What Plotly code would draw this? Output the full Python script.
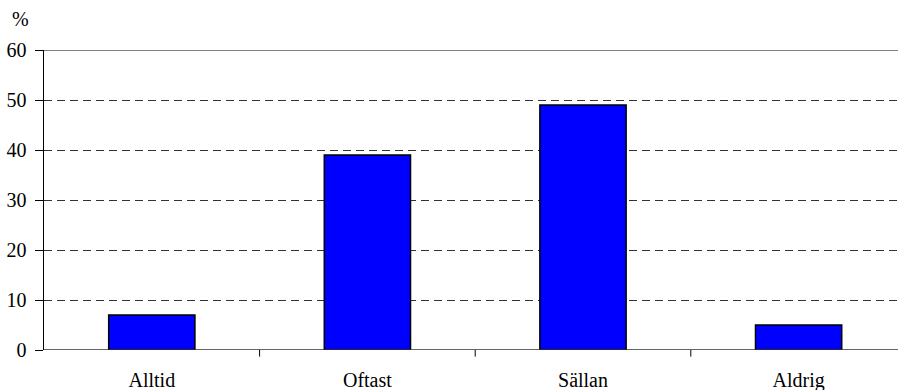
import plotly.graph_objects as go

categories = ["Alltid", "Oftast", "Sällan", "Aldrig"]
values = [7, 39, 49, 5]
y_ticks = [0, 10, 20, 30, 40, 50, 60]

FONT = "Liberation Serif, Times New Roman, serif"

fig = go.Figure()
fig.add_trace(go.Bar(
    x=list(range(len(categories))),
    y=values,
    width=0.4,
    marker=dict(color="#0000FF", line=dict(color="black", width=1.5)),
    hoverinfo="skip",
))

fig.update_layout(
    width=898, height=390,
    margin=dict(l=44, r=0, t=50, b=40, autoexpand=False),
    paper_bgcolor="white", plot_bgcolor="white",
    showlegend=False,
    font=dict(family=FONT, size=20, color="black"),
    xaxis=dict(
        range=[-0.5, 3.461],
        tickmode="array",
        tickvals=list(range(len(categories))),
        ticktext=categories,
        showgrid=False,
        showline=False,
        ticks="",
        ticklabelstandoff=16,
        zeroline=False,
        automargin=False,
        fixedrange=True,
    ),
    yaxis=dict(
        range=[0, 60],
        tickmode="array",
        tickvals=y_ticks,
        ticks="outside",
        ticklen=8,
        tickwidth=1,
        tickcolor="black",
        ticklabelstandoff=4,
        showline=True,
        linecolor="black",
        linewidth=1.5,
        showgrid=True,
        gridcolor="#333333",
        gridwidth=1,
        griddash="8px,5px",
        zeroline=False,
        automargin=False,
        fixedrange=True,
    ),
)

# top border at 60 (solid gray)
fig.add_shape(type="line", xref="paper", yref="y", x0=0, x1=1, y0=60, y1=60,
              line=dict(color="#808080", width=2))
# x axis baseline
fig.add_shape(type="line", xref="paper", yref="y", x0=0, x1=1, y0=0, y1=0,
              line=dict(color="#333333", width=1.5))
# category separator ticks
for b in [0.5, 1.5, 2.5]:
    fig.add_shape(type="line", xref="x", yref="paper", x0=b, x1=b, y0=0, y1=-0.022,
                  line=dict(color="black", width=1))

fig.add_annotation(text="%", xref="paper", yref="paper", x=-0.027, y=1.0,
                   xanchor="center", yanchor="bottom", yshift=18, showarrow=False,
                   font=dict(family=FONT, size=20, color="black"))

fig.write_html("out.html", config={"displayModeBar": False, "staticPlot": True},
               post_script="document.body.style.margin='0px';document.body.style.overflow='hidden';")
